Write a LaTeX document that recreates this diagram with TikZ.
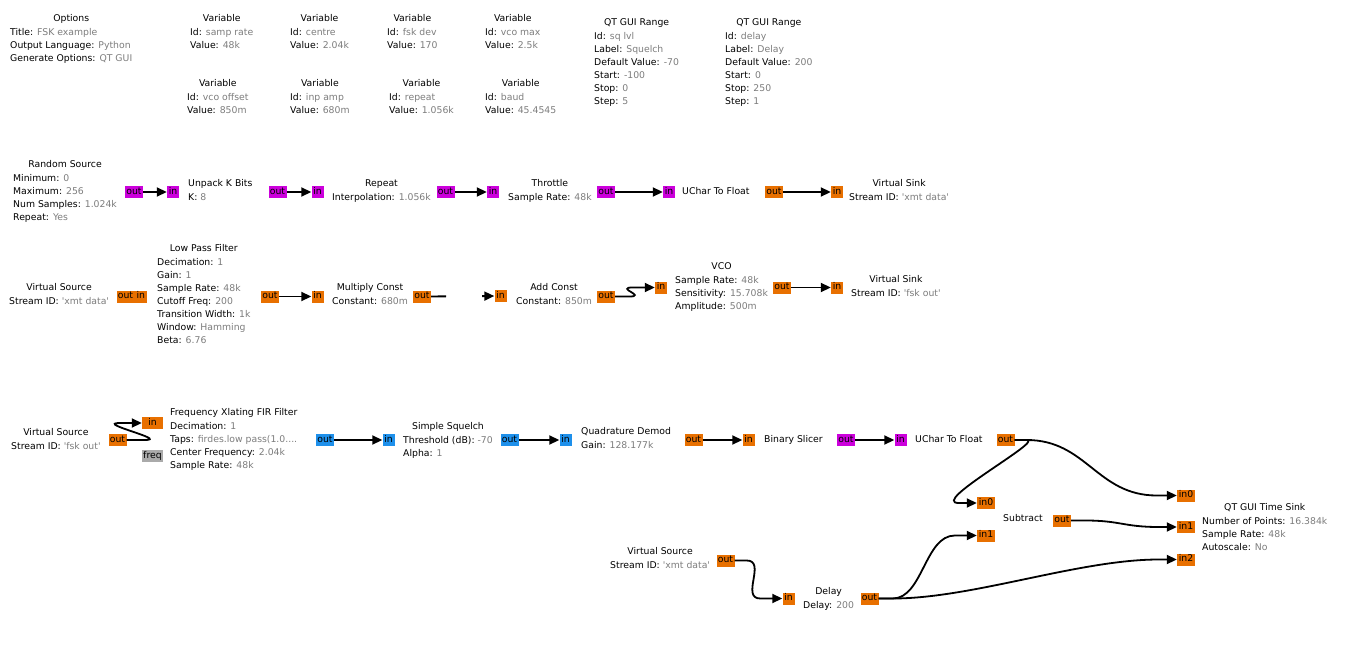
\documentclass[tikz,border=0pt]{standalone}
\usepackage{fontspec}
\setmainfont{DejaVu Sans}
\usetikzlibrary{positioning, arrows.meta, calc}

\definecolor{fltclr}{RGB}{232,112,0}
\definecolor{bytclr}{RGB}{204,0,220}
\definecolor{cpxclr}{RGB}{30,144,235}
\definecolor{msgclr}{RGB}{170,170,170}
\definecolor{valclr}{RGB}{125,125,125}

\newcommand{\pv}[2]{#1: \textcolor{valclr}{#2}}
\newcommand{\strid}[1]{\textquotesingle#1\textquotesingle}
\newcommand{\grblk}[2]{\begin{tabular}[t]{@{}l@{}}\multicolumn{1}{@{}c@{}}{#1}\\[1pt]#2\end{tabular}}

\begin{document}
\begin{tikzpicture}[x=1pt, y=-1pt, font=\fontsize{9.3}{13}\selectfont,
    blk/.style={anchor=base west, inner sep=0pt},
    port/.style={inner sep=0pt, minimum height=12pt, text height=6pt, text depth=1.5pt},
    pout/.style={port, minimum width=18pt},
    pin/.style={port, minimum width=12pt},
    flt/.style={fill=fltclr}, byt/.style={fill=bytclr},
    cpx/.style={fill=cpxclr}, msg/.style={fill=msgclr},
    wire/.style={line width=1.8pt, -{Triangle[length=10pt,width=9pt]}}]
    \useasboundingbox (0,0) rectangle (1352,650);
    \fill[white] (0,0) rectangle (1352,650);

    % Variables
    \node[blk] (opts) at (10,21.8) {\grblk{Options}{\pv{Title}{FSK example}\\ \pv{Output Language}{Python}\\ \pv{Generate Options}{QT GUI}}};
    \node[blk] (vsamp) at (190,21.8) {\grblk{Variable}{\pv{Id}{samp rate}\\ \pv{Value}{48k}}};
    \node[blk] (vcentre) at (290,21.8) {\grblk{Variable}{\pv{Id}{centre}\\ \pv{Value}{2.04k}}};
    \node[blk] (vdev) at (387,21.8) {\grblk{Variable}{\pv{Id}{fsk dev}\\ \pv{Value}{170}}};
    \node[blk] (vmax) at (485,21.8) {\grblk{Variable}{\pv{Id}{vco max}\\ \pv{Value}{2.5k}}};
    \node[blk] (voff) at (187,86.8) {\grblk{Variable}{\pv{Id}{vco offset}\\ \pv{Value}{850m}}};
    \node[blk] (vamp) at (290,86.8) {\grblk{Variable}{\pv{Id}{inp amp}\\ \pv{Value}{680m}}};
    \node[blk] (vrep) at (389,86.8) {\grblk{Variable}{\pv{Id}{repeat}\\ \pv{Value}{1.056k}}};
    \node[blk] (vbaud) at (485,86.8) {\grblk{Variable}{\pv{Id}{baud}\\ \pv{Value}{45.4545}}};
    \node[blk] (rsql) at (594,25.2) {\grblk{QT GUI Range}{\pv{Id}{sq lvl}\\ \pv{Label}{Squelch}\\ \pv{Default Value}{-70}\\ \pv{Start}{-100}\\ \pv{Stop}{0}\\ \pv{Step}{5}}};
    \node[blk] (rdly) at (725,25.2) {\grblk{QT GUI Range}{\pv{Id}{delay}\\ \pv{Label}{Delay}\\ \pv{Default Value}{200}\\ \pv{Start}{0}\\ \pv{Stop}{250}\\ \pv{Step}{1}}};

    % Blocks: transmit chain
    \node[blk] (rsrc) at (13,167.8) {\grblk{Random Source}{\pv{Minimum}{0}\\ \pv{Maximum}{256}\\ \pv{Num Samples}{1.024k}\\ \pv{Repeat}{Yes}}};
    \node[blk] (unpack) at (188,186.5) {\grblk{Unpack K Bits}{\pv{K}{8}}};
    \node[blk] (rpt) at (332,186.5) {\grblk{Repeat}{\pv{Interpolation}{1.056k}}};
    \node[blk] (thr) at (508,186.5) {\grblk{Throttle}{\pv{Sample Rate}{48k}}};
    \node[blk] (uctf1) at (682,194.5) {UChar To Float};
    \node[blk] (vsnk1) at (849,186.5) {\grblk{Virtual Sink}{\pv{Stream ID}{\strid{xmt data}}}};

    \node[blk] (vsrc1) at (9,290.5) {\grblk{Virtual Source}{\pv{Stream ID}{\strid{xmt data}}}};
    \node[blk] (lpf) at (157,251.8) {\grblk{Low Pass Filter}{\pv{Decimation}{1}\\ \pv{Gain}{1}\\ \pv{Sample Rate}{48k}\\ \pv{Cutoff Freq}{200}\\ \pv{Transition Width}{1k}\\ \pv{Window}{Hamming}\\ \pv{Beta}{6.76}}};
    \node[blk] (mul) at (332,290.8) {\grblk{Multiply Const}{\pv{Constant}{680m}}};
    \node[blk] (add) at (516,290.8) {\grblk{Add Const}{\pv{Constant}{850m}}};
    \node[blk] (vco) at (675,269.5) {\grblk{VCO}{\pv{Sample Rate}{48k}\\ \pv{Sensitivity}{15.708k}\\ \pv{Amplitude}{500m}}};
    \node[blk] (vsnk2) at (851,282.8) {\grblk{Virtual Sink}{\pv{Stream ID}{\strid{fsk out}}}};

    % Blocks: receive chain
    \node[blk] (vsrc2) at (11,435.2) {\grblk{Virtual Source}{\pv{Stream ID}{\strid{fsk out}}}};
    \node[blk] (xlate) at (170,415.8) {\grblk{Frequency Xlating FIR Filter}{\pv{Decimation}{1}\\ \pv{Taps}{firdes.low pass(1.0....}\\ \pv{Center Frequency}{2.04k}\\ \pv{Sample Rate}{48k}}};
    \node[blk] (sql) at (403,429.2) {\grblk{Simple Squelch}{\pv{Threshold (dB)}{-70}\\ \pv{Alpha}{1}}};
    \node[blk] (qdem) at (581,434.5) {\grblk{Quadrature Demod}{\pv{Gain}{128.177k}}};
    \node[blk] (slicer) at (764,442) {Binary Slicer};
    \node[blk] (uctf2) at (915,442) {UChar To Float};
    \node[blk] (sub) at (1003,521.5) {Subtract};
    \node[blk] (tsnk) at (1202,510.2) {\grblk{QT GUI Time Sink}{\pv{Number of Points}{16.384k}\\ \pv{Sample Rate}{48k}\\ \pv{Autoscale}{No}}};
    \node[blk] (vsrc3) at (610,554.5) {\grblk{Virtual Source}{\pv{Stream ID}{\strid{xmt data}}}};
    \node[blk] (dly) at (803,594.5) {\grblk{Delay}{\pv{Delay}{200}}};

    % Ports
    \node[pout, byt] (rsrcout) at (134,192) {out};
    \node[pin, byt] (unpackin) at (173,192) {in};
    \node[pout, byt] (unpackout) at (277.5,192) {out};
    \node[pin, byt] (rptin) at (317.5,192) {in};
    \node[pout, byt] (rptout) at (445.5,192) {out};
    \node[pin, byt] (thrin) at (493,192) {in};
    \node[pout, byt] (throut) at (606,192) {out};
    \node[pin, byt] (uctf1in) at (669,192) {in};
    \node[pout, flt] (uctf1out) at (774,192) {out};
    \node[pin, flt] (vsnk1in) at (837,192) {in};

    \node[pout, flt] (vsrc1out) at (125.5,296.5) {out};
    \node[pin, flt, right=0pt of vsrc1out] (lpfin) {in};
    \node[pout, flt] (lpfout) at (270,296.5) {out};
    \node[pin, flt] (mulin) at (317.5,296.5) {in};
    \node[pout, flt] (mulout) at (422,296.5) {out};
    \node[pin, flt] (addin) at (500.5,296) {in};
    \node[pout, flt] (addout) at (606,296.5) {out};
    \node[pin, flt] (vcoin) at (661,287.5) {in};
    \node[pout, flt] (vcoout) at (782,287.5) {out};
    \node[pin, flt] (vsnk2in) at (837,287.5) {in};

    \node[pout, flt] (vsrc2out) at (117.5,440) {out};
    \node[port, flt, minimum width=21pt] (xlatein) at (152.5,423) {in};
    \node[port, msg, minimum width=21pt] (xlatefreq) at (152.5,456) {freq};
    \node[pout, cpx] (xlateout) at (325,440) {out};
    \node[pin, cpx] (sqlin) at (388.5,440) {in};
    \node[pout, cpx] (sqlout) at (509.5,440) {out};
    \node[pin, cpx] (qdemin) at (565.5,440) {in};
    \node[pout, flt] (qdemout) at (693.5,440) {out};
    \node[pin, flt] (slicerin) at (748.5,440) {in};
    \node[pout, byt] (slicerout) at (846,440) {out};
    \node[pin, byt] (uctf2in) at (900.5,440) {in};
    \node[pout, flt] (uctf2out) at (1005.5,440) {out};
    \node[pout, flt] (subin0) at (986,503) {in0};
    \node[pout, flt] (subin1) at (986,535.5) {in1};
    \node[pout, flt] (subout) at (1062,520.5) {out};
    \node[pout, flt] (tsnkin0) at (1186,495.5) {in0};
    \node[pout, flt] (tsnkin1) at (1186,527) {in1};
    \node[pout, flt] (tsnkin2) at (1186,559.5) {in2};
    \node[pout, flt] (vsrc3out) at (725.5,560.5) {out};
    \node[pin, flt] (dlyin) at (788.5,598.5) {in};
    \node[pout, flt] (dlyout) at (869.5,598.5) {out};

    % Edges
    \draw[wire] (rsrcout) -- (unpackin);
    \draw[wire] (unpackout) -- (rptin);
    \draw[wire] (rptout) -- (thrin);
    \draw[wire] (throut) -- (uctf1in);
    \draw[wire] (uctf1out) -- (vsnk1in);
    \draw[wire] (lpfout) -- (mulin);
    \draw[wire, dash pattern=on 15pt off 36pt on 200pt] (mulout) -- (addin);
    \draw[wire] (vcoout) -- (vsnk2in);
    \draw[wire] (xlateout) -- (sqlin);
    \draw[wire] (sqlout) -- (qdemin);
    \draw[wire] (qdemout) -- (slicerin);
    \draw[wire] (slicerout) -- (uctf2in);

    % Curved lines
    \draw[wire] (addout.east) -- ++(14,0) .. controls +(18,0) and +(-18,0) .. ($(vcoin.west)+(-22,0)$) -- (vcoin.west);
    \draw[wire] (vsrc2out.east) -- ++(18,0) .. controls +(25,0) and +(-25,0) .. ($(xlatein.west)+(-22,0)$) -- (xlatein.west);
    \draw[wire] (uctf2out.east) -- ++(12,0) .. controls +(60,0) and +(-60,0) .. ($(tsnkin0.west)+(-20,0)$) -- (tsnkin0.west);
    \draw[wire] (uctf2out.east) -- ++(12,0) .. controls +(18,0) and +(-30,0) .. ($(subin0.west)+(-18,0)$) -- (subin0.west);
    \draw[wire] (subout.east) -- ++(14,0) .. controls +(35,0) and +(-35,0) .. ($(tsnkin1.west)+(-18,0)$) -- (tsnkin1.west);
    \draw[wire] (dlyout.east) -- ++(14,0) .. controls +(30,0) and +(-30,0) .. ($(subin1.west)+(-22,0)$) -- (subin1.west);
    \draw[wire] (dlyout.east) -- ++(14,0) .. controls +(80,0) and +(-80,0) .. ($(tsnkin2.west)+(-18,0)$) -- (tsnkin2.west);
    \draw[wire] (vsrc3out.east) -- ++(12,0) .. controls +(20,0) and +(-20,0) .. ($(dlyin.west)+(-22,0)$) -- (dlyin.west);
\end{tikzpicture}
\end{document}
